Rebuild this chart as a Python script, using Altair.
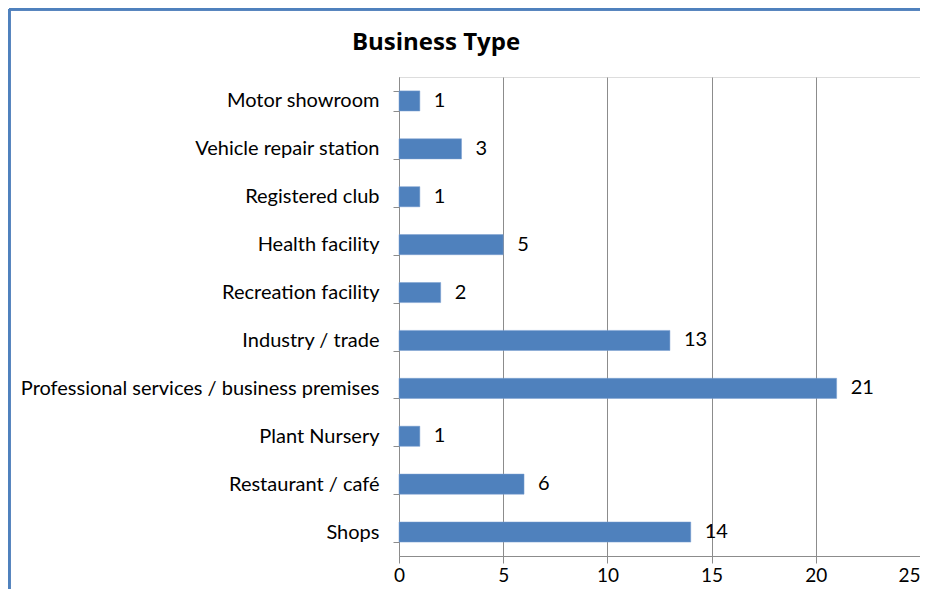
import altair as alt
import pandas as pd

categories = [
    "Motor showroom",
    "Vehicle repair station",
    "Registered club",
    "Health facility ",
    "Recreation facility",
    "Industry / trade",
    "Professional services / business premises",
    "Plant Nursery",
    "Restaurant / café",
    "Shops",
]
values = [1, 3, 1, 5, 2, 13, 21, 1, 6, 14]
x_ticks = [0, 5, 10, 15, 20, 25]
title_text = ["Business Type"]

df = pd.DataFrame({"category": categories, "value": values})
df_title = pd.DataFrame({"t": title_text})

FONT = "Lato"
BAR = "#4F81BD"
AXIS = "#8C8C8C"
FS = 20

y_enc = alt.Y(
    "category:N",
    sort=categories,
    scale=alt.Scale(paddingInner=0.58, paddingOuter=0.29),
    axis=alt.Axis(
        title=None,
        tickBand="extent",
        tickSize=6,
        tickColor=AXIS,
        domainColor=AXIS,
        labelFont=FONT,
        labelFontSize=FS,
        labelColor="#000000",
        labelPadding=14,
        labelLimit=600,
        grid=False,
    ),
)
x_enc = alt.X(
    "value:Q",
    scale=alt.Scale(domain=[0, 25], nice=False),
    axis=alt.Axis(
        title=None,
        values=x_ticks,
        tickSize=7,
        tickColor=AXIS,
        domainColor=AXIS,
        gridColor=AXIS,
        labelFont=FONT,
        labelFontSize=19,
        labelColor="#000000",
        labelPadding=3,
        labelFlush=False,
        labelAlign={"condition": {"test": "datum.value >= 25", "value": "right"}, "value": "center"},
    ),
)

bars = alt.Chart(df).mark_bar(color=BAR, stroke="#7a9fd0", strokeWidth=0.5).encode(x=x_enc, y=y_enc)
labels = alt.Chart(df).mark_text(
    align="left", baseline="middle", dx=14, font=FONT, fontSize=FS, color="#000000"
).encode(x="value:Q", y=alt.Y("category:N", sort=categories), text="value:Q")

title = alt.Chart(df_title).mark_text(
    align="center", baseline="middle", font="Open Sans", fontSize=24, fontWeight="bold", color="#000000"
).encode(text="t:N", x=alt.value(37), y=alt.value(-34))

border_top = alt.Chart(df).mark_rule(color="#4F81BD", strokeWidth=2.5).encode(
    x=alt.value(-390), x2=alt.value(540), y=alt.value(-68)
)
border_left = alt.Chart(df).mark_rule(color="#4F81BD", strokeWidth=2.5).encode(
    x=alt.value(-390), y=alt.value(-68), y2=alt.value(520)
)

chart = (
    alt.layer(border_top, border_left, bars, labels, title)
    .properties(
        width=521,
        height=479,
        autosize=alt.AutoSizeParams(type="none"),
        padding={"left": 391, "top": 69, "right": 0, "bottom": 33},
    )
    .configure_view(stroke=None)
    .configure(background="white")
)

chart.save("out.html", embed_options={"renderer": "svg", "actions": False})
